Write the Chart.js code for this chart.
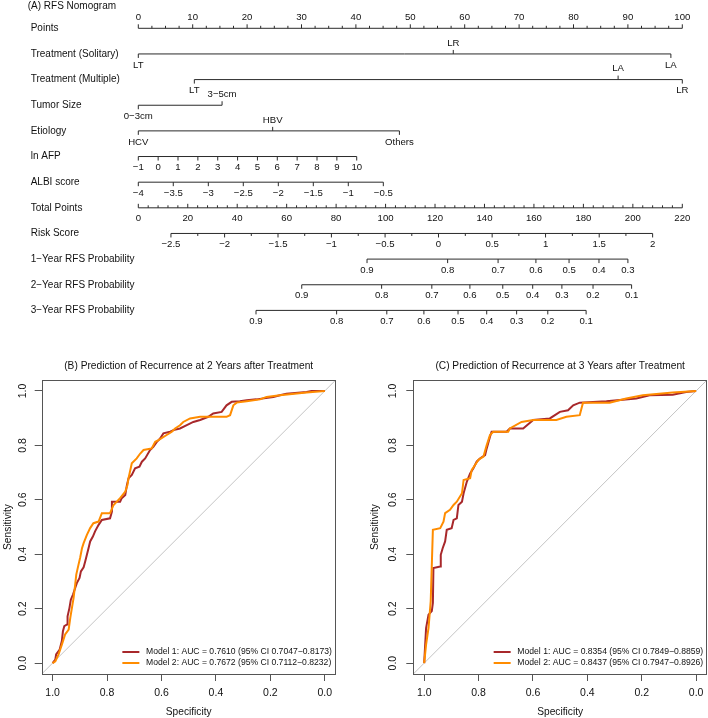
<!DOCTYPE html>
<html><head><meta charset="utf-8">
<script src="https://cdn.jsdelivr.net/npm/chart.js@4.4.1/dist/chart.umd.min.js"></script>
<style>
html,body{margin:0;padding:0;background:#fff;}
#wrap{position:relative;width:708px;height:718px;overflow:hidden;background:#fff;}
canvas{position:absolute;}
</style></head><body>
<div id="wrap">
<canvas id="nomo" width="708" height="340" style="left:0;top:0;"></canvas>
<canvas id="rocB" width="354" height="378" style="left:0;top:340px;"></canvas>
<canvas id="rocC" width="354" height="378" style="left:354px;top:340px;"></canvas>
</div>
<script>
// ---------------- DATA ----------------
const nomogramTitle = '(A) RFS Nomogram';
const rowNames = ['Points','Treatment (Solitary)','Treatment (Multiple)','Tumor Size','Etiology','ln AFP','ALBI score','Total Points','Risk Score','1\u2212Year RFS Probability','2\u2212Year RFS Probability','3\u2212Year RFS Probability'];

const pointsTicks = [0,10,20,30,40,50,60,70,80,90,100];
const solitaryLevels = ['LT','LR','LA'];
const solitaryPoints = [0,57.9,97.9];
const multipleLevels = ['LT','LA','LR'];
const multiplePoints = [10.3,88.2,100];
const tumorSizeLevels = ['0\u22123cm','3\u22125cm'];
const tumorSizePoints = [0,15.4];
const etiologyLevels = ['HCV','HBV','Others'];
const etiologyPoints = [0,24.7,48.0];
const lnAfpValues = [-1,0,1,2,3,4,5,6,7,8,9,10];
const lnAfpPoints = [0,3.65,7.3,10.95,14.6,18.25,21.9,25.55,29.2,32.85,36.5,40.15];
const albiValues = [-4,-3.5,-3,-2.5,-2,-1.5,-1,-0.5];
const albiPoints = [0,6.43,12.87,19.3,25.74,32.17,38.6,45.04];
const totalPointsTicks = [0,20,40,60,80,100,120,140,160,180,200,220];
const riskScoreValues = [-2.5,-2,-1.5,-1,-0.5,0,0.5,1,1.5,2];
const riskScoreTotalPoints = [13.2,34.9,56.5,78.1,99.8,121.4,143.1,164.7,186.4,208.0];
const rfs1Values = [0.9,0.8,0.7,0.6,0.5,0.4,0.3];
const rfs1TotalPoints = [92.5,125.1,145.5,160.8,174.2,186.3,198.0];
const rfs2Values = [0.9,0.8,0.7,0.6,0.5,0.4,0.3,0.2,0.1];
const rfs2TotalPoints = [66.1,98.4,118.7,134.1,147.4,159.5,171.3,183.9,199.5];
const rfs3Values = [0.9,0.8,0.7,0.6,0.5,0.4,0.3,0.2,0.1];
const rfs3TotalPoints = [47.6,80.2,100.5,115.5,129.3,140.9,153.0,165.6,181.1];

const rocTitleB = '(B) Prediction of Recurrence at 2 Years after Treatment';
const rocTitleC = '(C) Prediction of Recurrence at 3 Years after Treatment';
const rocAxisTicks = [0,0.2,0.4,0.6,0.8,1.0];
const legendB = ['Model 1: AUC = 0.7610 (95% CI 0.7047\u22120.8173)','Model 2: AUC = 0.7672 (95% CI 0.7112\u22120.8232)'];
const legendC = ['Model 1: AUC = 0.8354 (95% CI 0.7849\u22120.8859)','Model 2: AUC = 0.8437 (95% CI 0.7947\u22120.8926)'];

// [specificity, sensitivity]
const roc2yModel1 = [[1.000,0.000],[0.990,0.013],[0.987,0.032],[0.974,0.050],[0.966,0.081],[0.962,0.117],[0.957,0.136],[0.947,0.142],[0.945,0.172],[0.938,0.203],[0.933,0.233],[0.925,0.252],[0.917,0.276],[0.911,0.294],[0.901,0.313],[0.896,0.337],[0.886,0.352],[0.880,0.374],[0.874,0.398],[0.868,0.422],[0.862,0.447],[0.852,0.465],[0.844,0.484],[0.831,0.508],[0.819,0.526],[0.789,0.532],[0.782,0.557],[0.782,0.593],[0.752,0.593],[0.746,0.606],[0.733,0.618],[0.727,0.654],[0.721,0.679],[0.709,0.691],[0.697,0.716],[0.681,0.722],[0.672,0.740],[0.660,0.752],[0.642,0.783],[0.630,0.795],[0.617,0.813],[0.605,0.825],[0.593,0.844],[0.568,0.850],[0.556,0.856],[0.532,0.862],[0.507,0.874],[0.483,0.886],[0.458,0.893],[0.428,0.905],[0.410,0.917],[0.379,0.923],[0.361,0.947],[0.342,0.960],[0.312,0.962],[0.287,0.966],[0.251,0.969],[0.189,0.978],[0.165,0.984],[0.141,0.990],[0.067,0.996],[0.049,1.000],[0.000,1.000]];
const roc2yModel2 = [[1.000,0.000],[0.990,0.007],[0.978,0.032],[0.966,0.068],[0.954,0.105],[0.941,0.123],[0.935,0.166],[0.929,0.203],[0.923,0.239],[0.917,0.288],[0.913,0.325],[0.905,0.361],[0.899,0.386],[0.892,0.422],[0.886,0.441],[0.874,0.471],[0.862,0.496],[0.850,0.514],[0.831,0.520],[0.819,0.551],[0.789,0.551],[0.776,0.581],[0.752,0.606],[0.733,0.630],[0.725,0.654],[0.721,0.679],[0.709,0.734],[0.691,0.752],[0.678,0.770],[0.666,0.783],[0.636,0.789],[0.623,0.813],[0.611,0.819],[0.581,0.838],[0.562,0.850],[0.550,0.862],[0.532,0.874],[0.520,0.886],[0.495,0.899],[0.458,0.905],[0.361,0.905],[0.348,0.911],[0.336,0.947],[0.324,0.957],[0.287,0.962],[0.238,0.969],[0.214,0.978],[0.165,0.984],[0.067,0.994],[0.000,1.000]];
const roc3yModel1 = [[1.000,0.000],[0.993,0.129],[0.984,0.178],[0.972,0.191],[0.968,0.221],[0.966,0.349],[0.941,0.355],[0.939,0.398],[0.932,0.422],[0.923,0.447],[0.917,0.490],[0.899,0.496],[0.892,0.526],[0.880,0.532],[0.874,0.581],[0.861,0.593],[0.855,0.624],[0.843,0.667],[0.831,0.697],[0.819,0.716],[0.807,0.740],[0.795,0.752],[0.776,0.764],[0.770,0.789],[0.758,0.832],[0.752,0.850],[0.697,0.850],[0.685,0.862],[0.636,0.862],[0.599,0.893],[0.538,0.899],[0.501,0.923],[0.471,0.929],[0.452,0.947],[0.428,0.957],[0.330,0.962],[0.220,0.972],[0.171,0.984],[0.086,0.986],[0.037,0.996],[0.000,1.000]];
const roc3yModel2 = [[1.000,0.000],[0.993,0.068],[0.984,0.129],[0.976,0.227],[0.968,0.490],[0.941,0.496],[0.929,0.520],[0.923,0.551],[0.905,0.563],[0.892,0.581],[0.880,0.593],[0.861,0.624],[0.855,0.673],[0.831,0.679],[0.825,0.710],[0.813,0.728],[0.800,0.747],[0.782,0.759],[0.770,0.801],[0.758,0.838],[0.746,0.850],[0.691,0.850],[0.685,0.862],[0.642,0.886],[0.599,0.893],[0.514,0.893],[0.477,0.905],[0.428,0.911],[0.416,0.957],[0.318,0.957],[0.257,0.972],[0.196,0.984],[0.086,0.994],[0.000,1.000]];

// ---------------- STYLE ----------------
const FONT = '"Liberation Sans", Arial, Helvetica, sans-serif';
const RED = '#A8282B';
const ORANGE = '#FF8C00';
Chart.defaults.font.family = FONT;
const fmt = v => String(v).replace('-', '\u2212');

// ---------------- NOMOGRAM ----------------
function catRow(name, levels, pts, sides) {
  return {name, axis:'x', ticks: levels.map((l,i)=>({v:pts[i], t:l, side:sides[i]})), minor:[], minorDir:1};
}
function numRow(name, axis, vals, pts, side) {
  return {name, axis, ticks: vals.map((v,i)=>({v:pts[i], t:fmt(v), side})), minor:[], minorDir:1};
}
const pointsMinor = [];
for (let i = 0; i < pointsTicks.length-1; i++) { const a=pointsTicks[i], b=pointsTicks[i+1]; for (let k=1;k<4;k++) pointsMinor.push(a+(b-a)*k/4); }
const totalMinor = [];
for (let i = 0; i < totalPointsTicks.length-1; i++) { const a=totalPointsTicks[i], b=totalPointsTicks[i+1]; for (let k=1;k<5;k++) totalMinor.push(a+(b-a)*k/5); }
const riskMinor = [];
for (let i = 0; i < riskScoreTotalPoints.length-1; i++) riskMinor.push((riskScoreTotalPoints[i]+riskScoreTotalPoints[i+1])/2);

const nomoRows = [
  Object.assign(numRow(rowNames[0],'x',pointsTicks,pointsTicks,'above'),{minor:pointsMinor,minorDir:-1}),
  catRow(rowNames[1], solitaryLevels, solitaryPoints, ['below','above','below']),
  catRow(rowNames[2], multipleLevels, multiplePoints, ['below','above','below']),
  catRow(rowNames[3], tumorSizeLevels, tumorSizePoints, ['below','above']),
  catRow(rowNames[4], etiologyLevels, etiologyPoints, ['below','above','below']),
  numRow(rowNames[5],'x',lnAfpValues,lnAfpPoints,'below'),
  numRow(rowNames[6],'x',albiValues,albiPoints,'below'),
  Object.assign(numRow(rowNames[7],'xt',totalPointsTicks,totalPointsTicks,'below'),{minor:totalMinor,minorDir:-1,tickDir:-1}),
  Object.assign(numRow(rowNames[8],'xt',riskScoreValues,riskScoreTotalPoints,'below'),{minor:riskMinor,minorDir:1}),
  numRow(rowNames[9],'xt',rfs1Values,rfs1TotalPoints,'below'),
  numRow(rowNames[10],'xt',rfs2Values,rfs2TotalPoints,'below'),
  numRow(rowNames[11],'xt',rfs3Values,rfs3TotalPoints,'below')
];

const nomoPlugin = {
  id: 'nomoDecor',
  afterDatasetsDraw(chart) {
    const ctx = chart.ctx, ys = chart.scales.y;
    ctx.save();
    ctx.strokeStyle = '#2a2a2a'; ctx.fillStyle = '#111'; ctx.lineWidth = 1;
    ctx.textBaseline = 'middle';
    ctx.font = '10px ' + FONT; ctx.textAlign = 'left';
    ctx.fillText(nomogramTitle, 27.7, 6);
    nomoRows.forEach((row, i) => {
      const sc = chart.scales[row.axis];
      const y = ys.getPixelForValue(i);
      ctx.font = '10px ' + FONT; ctx.textAlign = 'left';
      ctx.fillText(row.name, 30.7, y);
      ctx.font = '9.6px ' + FONT; ctx.textAlign = 'center';
      row.ticks.forEach(t => {
        const x = sc.getPixelForValue(t.v);
        const dir = row.tickDir !== undefined ? row.tickDir : (t.side === 'above' ? -1 : 1);
        ctx.beginPath(); ctx.moveTo(x, y); ctx.lineTo(x, y + dir*4); ctx.stroke();
        ctx.fillText(t.t, x, y + (t.side === 'above' ? -11 : 11));
      });
      row.minor.forEach(v => {
        const x = sc.getPixelForValue(v);
        ctx.beginPath(); ctx.moveTo(x, y); ctx.lineTo(x, y + row.minorDir*2.5); ctx.stroke();
      });
    });
    ctx.restore();
  }
};

new Chart(document.getElementById('nomo'), {
  type: 'scatter',
  data: { datasets: nomoRows.map((row, i) => {
    const vs = row.ticks.map(t => t.v);
    return { data: [{x: Math.min(...vs), y: i}, {x: Math.max(...vs), y: i}], xAxisID: row.axis, yAxisID: 'y',
      showLine: true, borderColor: '#2a2a2a', borderWidth: 1, pointRadius: 0, clip: false };
  })},
  options: {
    responsive: false, animation: false, devicePixelRatio: 1,
    layout: { padding: { left: 138.3, right: 25.7, top: 28.3, bottom: 29.6 } },
    scales: {
      x: { type: 'linear', min: 0, max: 100, display: false },
      xt: { type: 'linear', min: 0, max: 220, display: false },
      y: { type: 'linear', min: 0, max: 11, reverse: true, display: false }
    },
    plugins: { legend: { display: false }, tooltip: { enabled: false }, title: { display: false } }
  },
  plugins: [nomoPlugin]
});

// ---------------- ROC ----------------
function rocDecor(legendTexts) {
  return {
    id: 'rocDecor',
    afterDraw(chart) {
      const ctx = chart.ctx, a = chart.chartArea;
      ctx.save();
      ctx.strokeStyle = '#555'; ctx.lineWidth = 1;
      ctx.strokeRect(Math.round(a.left)+0.5, Math.round(a.top)+0.5, Math.round(a.right-a.left)-1, Math.round(a.bottom-a.top));
      ctx.font = '8.6px ' + FONT; ctx.textBaseline = 'middle'; ctx.textAlign = 'left'; ctx.fillStyle = '#111';
      const w = Math.max(...legendTexts.map(t => ctx.measureText(t).width));
      const tx = a.right - 3.8 - w;
      [[legendTexts[0], RED, 22], [legendTexts[1], ORANGE, 11]].forEach(([t, c, off]) => {
        const y = a.bottom - off;
        ctx.strokeStyle = c; ctx.lineWidth = 2;
        ctx.beginPath(); ctx.moveTo(tx - 23.7, y); ctx.lineTo(tx - 6.7, y); ctx.stroke();
        ctx.fillText(t, tx, y);
      });
      ctx.restore();
    }
  };
}

function makeRoc(id, title, m1, m2, legendTexts, g) {
  const toXY = arr => arr.map(p => ({x: p[0], y: p[1]}));
  new Chart(document.getElementById(id), {
    type: 'scatter',
    data: { datasets: [
      { label: 'Model 2', data: toXY(m2), showLine: true, borderColor: ORANGE, borderWidth: 2, pointRadius: 0, order: 1 },
      { label: 'Model 1', data: toXY(m1), showLine: true, borderColor: RED, borderWidth: 2, pointRadius: 0, order: 2 },
      { label: 'ref', data: [{x: 1.04, y: -0.04}, {x: -0.04, y: 1.04}], showLine: true, borderColor: '#c4c4c4', borderWidth: 1, pointRadius: 0, order: 3 }
    ]},
    options: {
      responsive: false, animation: false, devicePixelRatio: 1,
      layout: { padding: { left: 0, right: g.padRight, top: 0, bottom: 0 } },
      plugins: {
        legend: { display: false }, tooltip: { enabled: false },
        title: { display: true, text: title, fullSize: false, color: '#111', font: { size: 10.2, weight: 'normal' }, padding: { top: 19.9, bottom: 7.9 } }
      },
      scales: {
        x: {
          type: 'linear', min: -0.04, max: 1.04, reverse: true,
          afterBuildTicks: s => { s.ticks = rocAxisTicks.map(v => ({value: v})); },
          afterFit: s => { s.height = 44; },
          ticks: { callback: v => Number(v).toFixed(1), color: '#111', font: { size: 10.5 }, padding: 6, autoSkip: false, maxRotation: 0 },
          grid: { display: true, drawOnChartArea: false, drawTicks: true, tickLength: 7, color: '#555' },
          border: { display: false },
          title: { display: true, text: 'Specificity', color: '#111', font: { size: 10.2 }, padding: { top: 0, bottom: 0 } }
        },
        y: {
          type: 'linear', min: -0.04, max: 1.04,
          afterBuildTicks: s => { s.ticks = rocAxisTicks.map(v => ({value: v})); },
          afterFit: s => { s.width = g.yWidth; },
          ticks: { callback: v => Number(v).toFixed(1), color: '#111', font: { size: 10.5 }, padding: g.yPad, autoSkip: false, minRotation: 90, maxRotation: 90, crossAlign: 'center' },
          grid: { display: true, drawOnChartArea: false, drawTicks: true, tickLength: 7, color: '#555' },
          border: { display: false },
          title: { display: true, text: 'Sensitivity', color: '#111', font: { size: 10.2 }, padding: { top: g.yTitlePad, bottom: 0 } }
        }
      }
    },
    plugins: [rocDecor(legendTexts)]
  });
}

makeRoc('rocB', rocTitleB, roc2yModel1, roc2yModel2, legendB, { padRight: 18.3, yWidth: 41.7, yPad: 4.7, yTitlePad: 1.9 });
makeRoc('rocC', rocTitleC, roc3yModel1, roc3yModel2, legendC, { padRight: 1.0, yWidth: 59.3, yPad: 5.7, yTitlePad: 14.9 });
</script>
</body></html>
